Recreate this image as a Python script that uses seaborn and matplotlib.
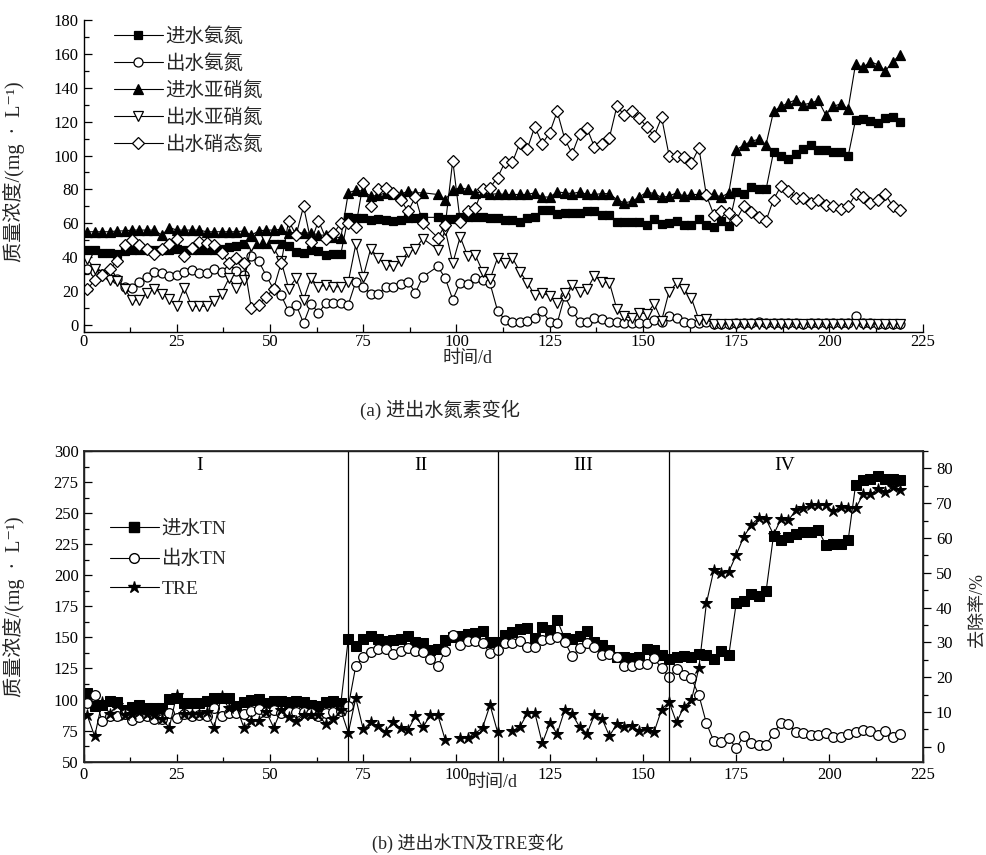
import numpy as np
import pandas as pd
import matplotlib
matplotlib.use("Agg")
import matplotlib.pyplot as plt
from matplotlib.lines import Line2D
from matplotlib.ticker import MultipleLocator
import seaborn as sns

# ---------------- data ----------------
# sampling days (top panel has no sample on day 93)
days_b = [1, 3, 5, 7, 9, 11, 13, 15, 17, 19, 21, 23, 25, 27, 29, 31, 33, 35, 37, 39,
          41, 43, 45, 47, 49, 51, 53, 55, 57, 59, 61, 63, 65, 67, 69, 71, 73, 75, 77, 79,
          81, 83, 85, 87, 89, 91, 93, 95, 97, 99, 101, 103, 105, 107, 109, 111, 113, 115, 117, 119,
          121, 123, 125, 127, 129, 131, 133, 135, 137, 139, 141, 143, 145, 147, 149, 151, 153, 155, 157, 159,
          161, 163, 165, 167, 169, 171, 173, 175, 177, 179, 181, 183, 185, 187, 189, 191, 193, 195, 197, 199,
          201, 203, 205, 207, 209, 211, 213, 215, 217, 219]
days_a = [1, 3, 5, 7, 9, 11, 13, 15, 17, 19, 21, 23, 25, 27, 29, 31, 33, 35, 37, 39,
          41, 43, 45, 47, 49, 51, 53, 55, 57, 59, 61, 63, 65, 67, 69, 71, 73, 75, 77, 79,
          81, 83, 85, 87, 89, 91, 95, 97, 99, 101, 103, 105, 107, 109, 111, 113, 115, 117, 119,
          121, 123, 125, 127, 129, 131, 133, 135, 137, 139, 141, 143, 145, 147, 149, 151, 153, 155, 157, 159,
          161, 163, 165, 167, 169, 171, 173, 175, 177, 179, 181, 183, 185, 187, 189, 191, 193, 195, 197, 199,
          201, 203, 205, 207, 209, 211, 213, 215, 217, 219]

nh4_in = [44.5, 44, 42.5, 42.5, 42, 43.5, 44, 44, 44, 44, 44, 44.5, 45, 44, 44.5, 44.5, 44, 44.5, 45, 46,
          46.5, 47.5, 48, 48, 48, 48, 47.5, 46.5, 43, 42.5, 44, 43.5, 41.5, 42, 42, 64, 63, 63, 62, 62.5,
          62, 61.5, 62, 63, 63, 63.5,
          63.5, 62.5, 62.5, 63.5, 64, 64, 64, 63, 63, 62, 62, 60.5, 63, 63.5, 68, 68, 65.5, 66, 66, 66,
          67.5, 67, 65, 65, 60.5, 60.5, 61, 61, 59, 62.4, 59.4, 60.4, 61.6, 59, 59, 62.4, 59, 58, 61.5, 58.5,
          78.5, 77, 81.5, 80, 80, 102, 100, 98, 101, 104, 106, 103, 103, 102, 102, 99.5, 121, 121.5, 120.5, 119,
          122, 122.5, 119.5]
nh4_out = [33, 31.5, 30, 29, 27, 22.5, 22, 25.5, 28.5, 31.5, 30.5, 29, 29.5, 31.5, 32.5, 30.5, 30.5, 33, 31.5, 32.5,
           32, 29.5, 40.5, 37.5, 29, 21, 17.5, 8, 12, 1, 12.5, 7, 13, 13, 13, 12, 25.5, 22.5, 18.5, 18,
           22.5, 22.5, 24, 25.5, 19, 28.5,
           34.5, 27.5, 15, 25, 24, 27.5, 26.5, 24.5, 8.5, 3, 2, 1.5, 2.5, 4.3, 8, 2, 1, 17, 8.5, 2,
           1.5, 4.3, 3.5, 2, 1.5, 1, 1, 1, 1.4, 3, 1.6, 5.3, 3.9, 2, 1, 1.4, 2, 0.5, 0.8, 0.8,
           1, 1, 1, 2, 1, 1, 1, 1, 1, 0.8, 1, 1, 1, 1, 1, 1, 5.5, 1, 1, 0.8,
           0.8, 0.8, 0.8]
no2_in = [55, 55, 55, 55, 55.5, 55.5, 56, 56, 56, 56, 53, 57.5, 56, 56, 56, 56, 55, 55, 55, 55,
          55, 55.5, 53, 55.5, 56, 56, 56.5, 54, 55, 54, 54.5, 53, 53, 52, 51.5, 78, 79.5, 79, 76, 76.5,
          78, 77, 77, 79, 78, 78,
          77, 74, 79.5, 81, 80, 78, 78.5, 77, 77.5, 77, 77, 77, 77, 78, 75.5, 75.5, 78.5, 78, 77.5, 78.5,
          77, 77, 77.5, 77.5, 74, 72, 73, 75.5, 78.5, 77.5, 75.3, 76, 78, 76, 77, 77, 77, 77, 75.5, 78,
          103.5, 106, 108.5, 109.5, 106.5, 126, 129, 131, 133, 130, 131, 132.5, 124, 129, 130.5, 127.5, 154, 152, 155.5, 153.5,
          150, 155.5, 159.5]
no2_out = [39, 33, 29.5, 26.5, 26, 21.5, 15, 14.5, 19, 21.5, 18.5, 15.5, 11, 22, 11, 11, 11, 14, 18.5, 27.5,
           22, 26.5, 46.5, 50, 50, 45.5, 37.5, 21.5, 27.5, 15, 27.5, 22.5, 23.5, 22.5, 22.5, 25.5, 47.5, 28.5, 45, 39.5,
           35.5, 34.5, 37.5, 43, 45, 51,
           44.5, 56, 36.5, 52, 40.5, 41.5, 31.5, 27, 39.5, 36.5, 39.5, 31.5, 25, 17.5, 19, 17, 13, 18.7, 23.6, 19.7,
           21, 29, 25.5, 25, 9.3, 5, 4, 7.3, 6.5, 12.4, 2.6, 19.7, 24.6, 21, 15.7, 3, 3.3, 0.5, 0.5, 0.5,
           0.5, 0.5, 0.5, 0.5, 0.5, 0.5, 0.5, 0.5, 0.5, 0.5, 0.5, 0.5, 0.5, 0.5, 0.5, 0.5, 0.5, 0.5, 0.5, 0.5,
           0.5, 0.5, 0.5]
no3_out = [21, 26.5, 29.5, 33, 37.5, 47, 50, 47, 45, 42, 45, 47.5, 51, 40.5, 45.5, 49, 48.5, 47, 42.5, 36.5,
           39.5, 36.5, 10, 12, 16.5, 21.5, 36.5, 61.5, 53, 70, 49, 61.5, 51, 54, 60, 60, 58, 84, 70, 80,
           81, 78, 74, 67, 75.5, 60,
           51.5, 59, 97, 61, 67.5, 69, 80, 81, 87, 96, 96, 107.5, 104, 117, 107, 113.5, 126, 110, 101, 112.5,
           116, 105, 107, 110.5, 129, 124, 126, 122, 117, 111.6, 122.5, 100, 99.5, 99, 95.5, 104.5, 76.5, 65, 67.5, 66,
           62, 70, 66.5, 63.5, 61.5, 74, 82, 79, 75, 75, 72, 73.5, 70.5, 70, 68.5, 70, 77, 75.5, 72, 74,
           77, 70, 68]

tn_in = [105, 95, 95.5, 99, 98, 92, 94, 96, 93, 93, 93, 100.5, 101, 97, 97, 97, 98.5, 101, 101.5, 101,
         94.5, 98, 99.5, 100.5, 97, 99, 99, 98, 98.5, 98, 96, 95, 98, 99, 97, 149, 143, 148.5, 151, 148.5,
         147.4, 148, 148.5, 151, 146.5, 145.3, 140, 141, 148, 150, 151, 152.8, 153.8, 155.4, 146.6, 146.6, 152, 154.6, 156.5, 157.3,
         149.3, 158.7, 156, 164, 149.3, 148.5, 151.2, 155.4, 146.6, 144, 140, 134.5, 134, 133.2, 134, 140.4, 140, 136, 133,
         134.5, 135, 134.5, 137, 135.5, 133, 139, 135.5, 177.5, 179, 185, 183.5, 187, 232, 228, 230.5, 233, 235, 235, 236.5,
         224.5, 225, 225, 228, 272.5, 277, 277.5, 280, 277.5, 277.5, 277]
tn_out = [97, 103.5, 82.5, 87, 87, 88, 83.5, 86, 87, 84.5, 84.5, 89, 85, 88.5, 87, 87.5, 87, 93, 87, 89.5,
          89.5, 88, 91, 92.5, 90, 91.5, 89, 90, 90, 90, 89.5, 86.5, 89.5, 90, 91, 94.5, 127, 134.5, 138.5, 140.5,
          140.4, 136.4, 139.4, 141.2, 139.4, 138.6, 132.4, 127, 139.4, 152, 143.9, 147.1, 147.1, 145.8, 137.2, 139.9, 145.3, 145.3, 147.1, 142.6,
          142.1, 148, 148.5, 150.1, 146.6, 135.1, 141.2, 145.3, 142.6, 135.9, 136.4, 134, 127, 127, 128.6, 128.6, 133.2, 125.1, 118.4,
          124.5, 120, 117, 103.5, 81, 66.5, 66, 69, 61, 70.5, 65, 63.5, 63.5, 73, 81, 80, 74, 73, 71.5, 71.5,
          73, 70, 70, 72, 74, 75.5, 74.5, 71.5, 74.5, 69.5, 72]
tre = [9, 3, 13, 9.5, 12, 9, 9.5, 10, 9.5, 9, 8, 5.5, 15, 9.5, 9.5, 9.5, 10, 5.5, 14.5, 11,
       11.5, 5.5, 7.5, 7.5, 10, 5.5, 10.5, 8.5, 7.5, 9, 9, 9, 6.5, 8, 10.5, 4, 14, 5, 7, 6,
       4.3, 7.2, 5.3, 4.8, 8.8, 5.6, 9.1, 9.1, 1.9, np.nan, 2.6, 2.6, 3.8, 5.5, 12, 4.3, np.nan, 4.6, 5.7, 9.6,
       9.8, 1, 6.7, 3.8, 10.5, 9.4, 5.7, 3.8, 9.1, 8.1, 3.1, 6.5, 5.7, 5.9, 4.6, 5, 4.3, 10.7, 12.9,
       7, 11.5, 13.4, 22.7, 41.2, 50.8, 50, 50.3, 55.1, 60.3, 63.7, 65.8, 65.4, 61, 65.4, 65.1, 68, 68.7, 69.4, 69.4,
       69.4, 67.7, 69, 68.7, 68.5, 72.5, 72.5, 74.2, 73.1, 74.7, 73.8]

stage_bounds = [71, 111, 157]
stage_labels = ["I", "II", "III", "IV"]
stage_label_x = [31, 90.5, 134, 188]

top_labels = ["进水氨氮", "出水氨氮", "进水亚硝氮", "出水亚硝氮", "出水硝态氮"]
bot_labels = ["进水TN", "出水TN", "TRE"]

# ---------------- style ----------------
sns.set_theme(style="white")
FAM = ["Liberation Serif", "Noto Sans CJK SC", "DejaVu Sans"]
plt.rcParams["font.family"] = FAM
plt.rcParams["axes.unicode_minus"] = False

W, H = 986, 855
fig = plt.figure(figsize=(W / 100, H / 100), dpi=100)
fig.patch.set_facecolor("white")


def fx(px):
    return px / W


def fy(py):
    return 1 - py / H


LW = 0.8
TICK_FS = 12

ax1 = fig.add_axes([fx(83.5), fy(331.7), fx(922.7) - fx(83.5), fy(20) - fy(331.7)])
ax2 = fig.add_axes([fx(83.5), fy(761.7), fx(922.7) - fx(83.5), fy(451) - fy(761.7)])

styles_top = [
    dict(marker="s", markersize=6, markerfacecolor="black"),
    dict(marker="o", markersize=6.5, markerfacecolor="white"),
    dict(marker="^", markersize=7, markerfacecolor="black"),
    dict(marker="v", markersize=7, markerfacecolor="white"),
    dict(marker="D", markersize=6, markerfacecolor="white"),
]
series_top = [nh4_in, nh4_out, no2_in, no2_out, no3_out]

for vals, st in zip(series_top, styles_top):
    df = pd.DataFrame({"day": days_a, "v": vals})
    sns.lineplot(data=df, x="day", y="v", ax=ax1, color="black", linewidth=LW,
                 markeredgecolor="black", markeredgewidth=0.9, estimator=None,
                 sort=False, legend=False, **st)

ax1.set_xlim(0, 225)
ax1.set_ylim(-4, 180)
ax1.xaxis.set_major_locator(MultipleLocator(25))
ax1.xaxis.set_minor_locator(MultipleLocator(12.5))
ax1.yaxis.set_major_locator(MultipleLocator(20))
ax1.yaxis.set_minor_locator(MultipleLocator(10))
ax1.spines["top"].set_visible(False)
ax1.spines["right"].set_visible(False)
for sp in ["left", "bottom"]:
    ax1.spines[sp].set_color("black")
    ax1.spines[sp].set_linewidth(1.0)
ax1.tick_params(which="both", direction="in", color="black", width=0.9,
                labelsize=TICK_FS, labelcolor="black", bottom=True, left=True)
ax1.tick_params(which="major", length=6)
ax1.tick_params(which="minor", length=3.5)
ax1.tick_params(axis="x", which="major", pad=2)
ax1.set_xlabel("")
ax1.set_ylabel("")
ax1.set_facecolor("white")

handles_top = [Line2D([], [], color="black", lw=LW, markeredgecolor="black", markeredgewidth=0.9, **st)
               for st in styles_top]
ax1.legend(handles_top, top_labels, loc="upper left", bbox_to_anchor=(fx(114), fy(27)),
           bbox_transform=fig.transFigure, frameon=False, fontsize=14, handlelength=2.5,
           handletextpad=0.15, labelspacing=0.42, borderpad=0, borderaxespad=0)

# ---------------- bottom ----------------
df_in = pd.DataFrame({"day": days_b, "v": tn_in})
df_out = pd.DataFrame({"day": days_b, "v": tn_out})
sns.lineplot(data=df_in, x="day", y="v", ax=ax2, color="black", linewidth=LW, marker="s",
             markersize=6.5, markerfacecolor="black", markeredgecolor="black",
             estimator=None, sort=False, legend=False)
sns.lineplot(data=df_out, x="day", y="v", ax=ax2, color="black", linewidth=LW, marker="o",
             markersize=7, markerfacecolor="white", markeredgecolor="black", markeredgewidth=0.9,
             estimator=None, sort=False, legend=False)
for b in stage_bounds:
    ax2.axvline(b, color="black", lw=0.9)
for lab, xx in zip(stage_labels, stage_label_x):
    ax2.text(xx, 288, lab, ha="center", va="center", fontsize=14, color="black")

ax2.set_xlim(0, 225)
ax2.set_ylim(50, 300)
ax2.xaxis.set_major_locator(MultipleLocator(25))
ax2.xaxis.set_minor_locator(MultipleLocator(12.5))
ax2.yaxis.set_major_locator(MultipleLocator(25))
ax2.yaxis.set_minor_locator(MultipleLocator(12.5))
for sp in ax2.spines.values():
    sp.set_color("black")
    sp.set_linewidth(1.0)
ax2.tick_params(which="both", direction="in", color="black", width=0.9,
                labelsize=TICK_FS, labelcolor="black", bottom=True, left=True)
ax2.tick_params(which="major", length=6)
ax2.tick_params(which="minor", length=3.5)
ax2.set_xlabel("")
ax2.set_ylabel("")

ax3 = ax2.twinx()
seg = np.cumsum(np.isnan(np.array(tre, dtype=float)))
df_tre = pd.DataFrame({"day": days_b, "v": tre, "seg": seg}).dropna()
sns.lineplot(data=df_tre, x="day", y="v", units="seg", ax=ax3, color="black", linewidth=LW,
             marker="*", markersize=9, markerfacecolor="black", markeredgecolor="black",
             estimator=None, sort=False, legend=False)
ax3.set_ylim(-4.3, 85)
ax3.yaxis.set_major_locator(MultipleLocator(10))
ax3.yaxis.set_minor_locator(MultipleLocator(5))
ax3.set_ylabel("")
ax3.tick_params(axis="y", which="both", direction="out", color="black", width=0.9,
                labelsize=TICK_FS, labelcolor="black", right=True)
ax3.tick_params(axis="y", which="major", length=6)
ax3.tick_params(axis="y", which="minor", length=3.5)
ax3.grid(False)
ax2.grid(False)
ax1.grid(False)

handles_bot = [
    Line2D([], [], color="black", lw=LW, marker="s", markersize=6.5, markerfacecolor="black", markeredgecolor="black"),
    Line2D([], [], color="black", lw=LW, marker="o", markersize=7, markerfacecolor="white", markeredgecolor="black"),
    Line2D([], [], color="black", lw=LW, marker="*", markersize=9, markerfacecolor="black", markeredgecolor="black"),
]
ax2.legend(handles_bot, bot_labels, loc="upper left", bbox_to_anchor=(fx(110), fy(520)),
           bbox_transform=fig.transFigure, frameon=False, fontsize=14, handlelength=2.5,
           handletextpad=0.15, labelspacing=0.62, borderpad=0, borderaxespad=0)

# ---------------- texts ----------------
LAB_FS = 13
YLAB = "质量浓度/(mg  ·  L⁻¹)"
fig.text(fx(468), fy(358), "时间/d", ha="center", va="center", fontsize=LAB_FS)
fig.text(fx(440), fy(410), "(a) 进出水氮素变化", ha="center", va="center", fontsize=13.8)
fig.text(fx(493), fy(782), "时间/d", ha="center", va="center", fontsize=LAB_FS)
fig.text(fx(468), fy(843), "(b) 进出水TN及TRE变化", ha="center", va="center", fontsize=LAB_FS)
fig.text(fx(14), fy(172), YLAB, ha="center", va="center", rotation=90, fontsize=14.5)
fig.text(fx(14), fy(607), YLAB, ha="center", va="center", rotation=90, fontsize=14.5)
fig.text(fx(977), fy(610), "去除率/%", ha="center", va="center", rotation=90, fontsize=LAB_FS)

fig.savefig("out.png", dpi=100, facecolor="white")
